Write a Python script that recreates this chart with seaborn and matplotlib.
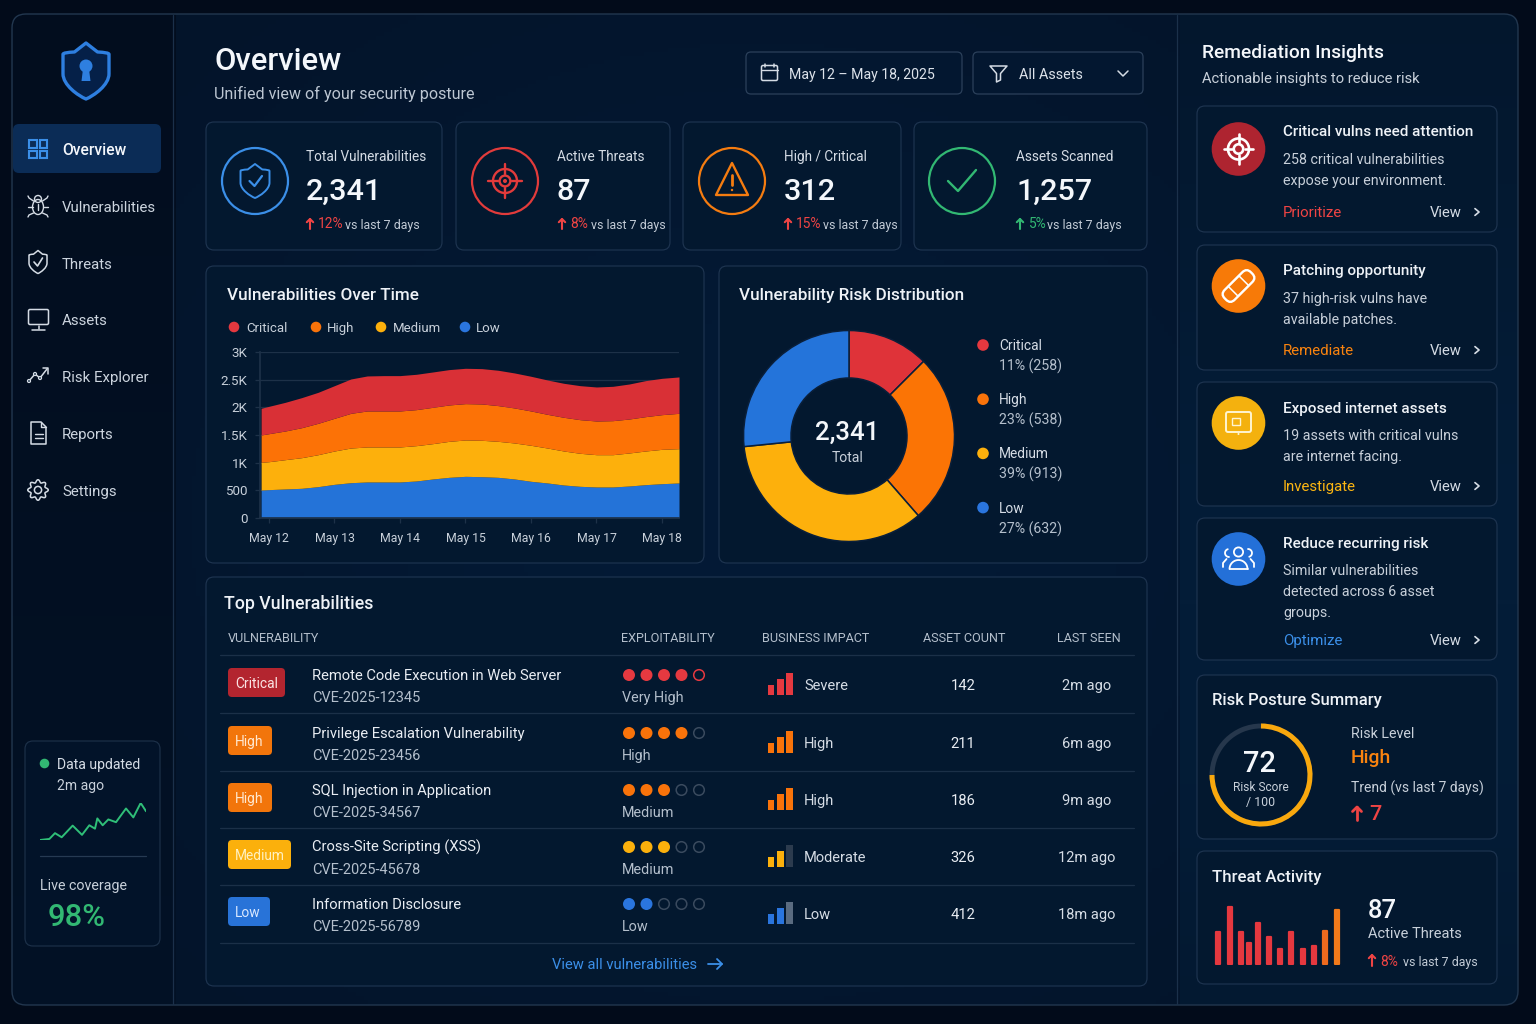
import numpy as np
import matplotlib
matplotlib.use("Agg")
import matplotlib.pyplot as plt
from matplotlib.patches import FancyBboxPatch, Circle, Rectangle, Arc, PathPatch, Ellipse, Polygon
from matplotlib.path import Path
from matplotlib.transforms import Affine2D
import pandas as pd
import seaborn as sns

# ------------------------------------------------------------------ data
nav_items = ["Overview", "Vulnerabilities", "Threats", "Assets", "Risk Explorer", "Reports", "Settings"]
kpi_labels = ["Total Vulnerabilities", "Active Threats", "High / Critical", "Assets Scanned"]
kpi_values = ["2,341", "87", "312", "1,257"]
kpi_deltas = ["12%", "8%", "15%", "5%"]

day_labels = ["May 12", "May 13", "May 14", "May 15", "May 16", "May 17", "May 18"]
area_days = [-0.12, 0, .25, .5, .75, 1, 1.25, 1.5, 1.75, 2, 2.25, 2.5, 2.75, 3,
             3.25, 3.5, 3.75, 4, 4.25, 4.5, 4.75, 5, 5.25, 5.5, 5.75, 6, 6.26]
low_vals = [502, 509, 521, 533, 563, 605, 635, 648, 648, 648, 666, 702, 732, 750,
            744, 732, 702, 660, 630, 593, 569, 557, 557, 575, 599, 617, 630]
medium_vals = [502, 507, 532, 556, 580, 605, 629, 635, 635, 635, 641, 641, 653, 660,
               660, 653, 653, 653, 634, 617, 599, 586, 586, 599, 611, 623, 622]
high_vals = [496, 508, 520, 544, 569, 593, 629, 653, 653, 653, 653, 659, 660, 659,
             659, 648, 635, 623, 611, 611, 610, 611, 617, 616, 623, 629, 641]
critical_vals = [484, 496, 520, 545, 562, 592, 623, 635, 641, 641, 641, 641, 641, 641,
                 641, 641, 635, 629, 623, 617, 617, 617, 623, 635, 653, 659, 660]

risk_names = ["Critical", "High", "Medium", "Low"]
risk_text = ["11% (258)", "23% (538)", "39% (913)", "27% (632)"]
risk_drawn_share = [12.5, 26.1, 34.8, 26.6]

vuln_names = ["Remote Code Execution in Web Server", "Privilege Escalation Vulnerability",
              "SQL Injection in Application", "Cross-Site Scripting (XSS)", "Information Disclosure"]
vuln_cves = ["CVE-2025-12345", "CVE-2025-23456", "CVE-2025-34567", "CVE-2025-45678", "CVE-2025-56789"]
vuln_sev = ["Critical", "High", "High", "Medium", "Low"]
vuln_exploit = [4, 4, 3, 3, 2]
vuln_exploit_txt = ["Very High", "High", "Medium", "Medium", "Low"]
vuln_impact = ["Severe", "High", "High", "Moderate", "Low"]
vuln_impact_bars = [3, 3, 3, 2, 2]
vuln_assets = [142, 211, 186, 326, 412]
vuln_seen = ["2m ago", "6m ago", "9m ago", "12m ago", "18m ago"]

spark_x = [0, 28, 45, 65, 98, 126, 148, 165, 172, 188, 205, 228, 258, 280, 302, 318]
spark_y = [0, 3, 20, 8, 42, 15, 43, 33, 63, 43, 60, 52, 92, 66, 108, 84]

threat_pos = [1218.3, 1229.7, 1240.7, 1249.3, 1258, 1268.7, 1280, 1291.3, 1302.7, 1314, 1325.3, 1337.3]
threat_vals = [32, 57, 32, 21, 41, 27, 15, 32, 15, 18, 33, 54]
risk_score_arc = 75

insight_titles = ["Critical vulns need attention", "Patching opportunity", "Exposed internet assets", "Reduce recurring risk"]
insight_desc = [["258 critical vulnerabilities", "expose your environment."],
                ["37 high-risk vulns have", "available patches."],
                ["19 assets with critical vulns", "are internet facing."],
                ["Similar vulnerabilities", "detected across 6 asset", "groups."]]
insight_action = ["Prioritize", "Remediate", "Investigate", "Optimize"]

# ------------------------------------------------------------------ style
W, H = 1536, 1024
RED, ORANGE, YELLOW, BLUE = "#e5383f", "#f9730a", "#fdb00c", "#2a75de"
sev_col = dict(zip(risk_names, [RED, ORANGE, YELLOW, BLUE]))
WHITE, TXT, MUTED = "#f4f7fb", "#d5dce5", "#b4bfcc"
EDGE = "#1e3450"
CARD = "#03182f"
LBLUE = "#3b8fe8"
GREEN = "#32b873"

sns.set_theme(style="dark", rc={"axes.facecolor": "none", "figure.facecolor": "#020b1a"})
plt.rcParams["font.family"] = ["Roboto", "DejaVu Sans"]
fig = plt.figure(figsize=(W / 100, H / 100), dpi=100)


def add_ax(x0, y0, x1, y1, z=1):
    a = fig.add_axes([x0 / W, 1 - y1 / H, (x1 - x0) / W, (y1 - y0) / H], zorder=z)
    a.patch.set_alpha(0)
    return a


def pixel_ax(z):
    a = add_ax(0, 0, W, H, z)
    a.set_xlim(0, W)
    a.set_ylim(H, 0)
    a.axis("off")
    return a


bg = pixel_ax(0)
ov = pixel_ax(3)


def T(x, y, s, px=14, c=TXT, w="normal", ha="left", va="baseline", ax=None):
    return (ax or ov).text(x, y, s, fontsize=px * .72, color=c, fontweight=w, ha=ha, va=va, zorder=8)


def box(x0, y0, x1, y1, r=8, fc=CARD, ec=EDGE, lw=0.85, ax=None, z=2):
    p = FancyBboxPatch((x0 + r, y0 + r), x1 - x0 - 2 * r, y1 - y0 - 2 * r,
                       boxstyle=f"round,pad={r},rounding_size={r}", fc=fc, ec=ec, lw=lw, zorder=z)
    (ax or bg).add_patch(p)
    return p


def L(xs, ys, c, lw=1.5, z=5, cap="round"):
    ov.plot(xs, ys, color=c, lw=lw, solid_capstyle=cap, solid_joinstyle="round", zorder=z)


def C(x, y, r, fc="none", ec="none", lw=1.5, z=5, ax=None):
    (ax or ov).add_patch(Circle((x, y), r, fc=fc, ec=ec, lw=lw, zorder=z))


def shield(cx, cy, w, h, c, lw=1.5, fc="none"):
    hw, t, b = w / 2, cy - h / 2, cy + h / 2
    verts = [(cx, t), (cx + hw * .5, t + h * .16), (cx + hw, t + h * .17), (cx + hw, t + h * .2),
             (cx + hw, cy + h * .05), (cx + hw, cy + h * .25), (cx + hw * .35, b - h * .06), (cx, b),
             (cx - hw * .35, b - h * .06), (cx - hw, cy + h * .25), (cx - hw, cy + h * .05),
             (cx - hw, t + h * .2), (cx - hw, t + h * .17), (cx - hw * .5, t + h * .16), (cx, t), (cx, t)]
    codes = [Path.MOVETO, Path.LINETO, Path.CURVE3, Path.CURVE3, Path.LINETO, Path.CURVE4, Path.CURVE4, Path.CURVE4,
             Path.CURVE4, Path.CURVE4, Path.CURVE4, Path.LINETO, Path.CURVE3, Path.CURVE3, Path.LINETO, Path.CLOSEPOLY]
    ov.add_patch(PathPatch(Path(verts, codes), fc=fc, ec=c, lw=lw, zorder=5, joinstyle="round"))


def up_arrow(x, y0, y1, c, lw=1.5, hw=3.2):
    L([x, x], [y0, y1], c, lw)
    L([x - hw, x, x + hw], [y0 + hw, y0, y0 + hw], c, lw)


def chevron(x, y, c=TXT, s=3.4, lw=1.2):
    L([x - s * .6, x + s * .6, x - s * .6], [y - s, y, y + s], c, lw)


def target(cx, cy, r, c, lw=1.8):
    C(cx, cy, r, ec=c, lw=lw)
    C(cx, cy, r * .45, ec=c, lw=lw)
    for dx, dy in [(1, 0), (-1, 0), (0, 1), (0, -1)]:
        L([cx + dx * r * .6, cx + dx * r * 1.4], [cy + dy * r * .6, cy + dy * r * 1.4], c, lw)


# ------------------------------------------------------------------ background
gy, gx = np.mgrid[0:H:4, 0:W:4]
glow = np.exp(-(((gx - 760) / 620) ** 2 + ((gy - 520) / 520) ** 2))
base = np.array([3, 19, 40])[None, None, :] + glow[..., None] * np.array([1, 7, 14])[None, None, :]
side = gx < 173
base[side] = (np.array([2, 13, 30])[None, :] + (gy[side] / H)[:, None] * np.array([1, 5, 8])[None, :])
right = gx > 1177
base[right] = (np.array([3, 21, 42])[None, :] + np.exp(-((gy[right] - 600) / 500) ** 2)[:, None] * np.array([1, 8, 14])[None, :])
im = bg.imshow(base.astype(np.uint8), extent=[0, W, H, 0], zorder=1, aspect="auto")
bg.set_xlim(0, W)
bg.set_ylim(H, 0)
panel = box(12, 14, 1518, 1005, r=14, fc="none", ec="#22374f", lw=1.0, z=3)
im.set_clip_path(panel)
bg.plot([172.8, 172.8], [15, 1004], color="#1b304a", lw=0.9, zorder=3)
bg.plot([1176.8, 1176.8], [15, 1004], color="#1b304a", lw=0.9, zorder=3)

# ------------------------------------------------------------------ sidebar
shield(86, 71, 46, 56, "#2e7fe0", lw=2.4, fc="#052048")
C(86, 66, 6.5, fc="#2e7fe0")
ov.add_patch(Polygon([(83, 69), (89, 69), (90.5, 81), (81.5, 81)], fc="#2e7fe0", ec="none", zorder=5))

box(13, 124, 161, 173, r=6, fc="#0b2c56", ec="none", ax=bg, z=3)
nav_y = [149, 206, 263, 319, 376, 433, 490]
for i, (n, y) in enumerate(zip(nav_items, nav_y)):
    T(62, y + 5.8, n, 15.6 if i == 0 else 15, WHITE if i == 0 else "#ccd4de", "medium" if i == 0 else "normal")
for sx in (29, 39.5):
    for sy in (140, 150.5):
        ov.add_patch(Rectangle((sx, sy), 7.8, 7.8, fc="none", ec=LBLUE, lw=1.5, zorder=5))
ic = "#d5dce5"
ov.add_patch(Ellipse((38, 207), 11, 15, fc="none", ec=ic, lw=1.0, zorder=5))
C(38, 199, 3.5, ec=ic, lw=1.0)
L([38, 38], [204, 210], ic, 1.0)
for s in (-1, 1):
    L([38 + s * 5.5, 38 + s * 10], [207, 207], ic, 1.0)
    L([38 + s * 4.5, 38 + s * 9, 38 + s * 10], [201, 198, 196], ic, 1.0)
    L([38 + s * 4.5, 38 + s * 9, 38 + s * 10], [213, 215, 217], ic, 1.0)
shield(38, 262, 18, 23, ic, 1.1)
L([34, 37.5, 42.5], [262, 266, 258], ic, 1.2)
ov.add_patch(FancyBboxPatch((30, 311), 17, 12, boxstyle="round,pad=1.5,rounding_size=1.5", fc="none", ec=ic, lw=1.1, zorder=5))
L([38.5, 38.5], [326, 329], ic, 1.1)
L([32, 45], [329.5, 329.5], ic, 1.1)
L([29, 35, 40, 47], [381, 374, 378, 369], ic, 1.1)
L([42.5, 48, 48], [368, 368, 373.5], ic, 1.1)
for px_, py_ in [(29, 381), (35, 374), (40, 378)]:
    C(px_, py_, 1.5, fc="#021a33", ec=ic, lw=0.9)
ov.add_patch(Polygon([(31, 422), (41, 422), (46, 427), (46, 444), (31, 444)], closed=True, fc="none", ec=ic, lw=1.1, zorder=5, joinstyle="round"))
L([41, 41, 46], [422, 427, 427], ic, 1.0)
for yy in (434, 438):
    L([34.5, 42.5], [yy, yy], ic, 1.0)
ang = np.deg2rad(np.arange(0, 360, 4))
rad = 8.9 + 1.4 * np.cos(8 * ang)
ov.add_patch(Polygon(np.c_[38 + rad * np.cos(ang), 490 + rad * np.sin(ang)], closed=True, fc="none", ec=ic, lw=1.1, zorder=5, joinstyle="round"))
C(38, 490, 3.6, ec=ic, lw=1.1)

box(25, 741, 160, 946, r=8, fc="#021329", ec="#1d3149", ax=bg, z=3)
C(44.5, 763.5, 4.8, fc=GREEN)
T(57, 768.5, "Data updated", 14, "#d5dce5")
T(57, 790, "2m ago", 14, "#c8d0da")
ov.plot([40, 146], [856, 856], color="#263a52", lw=0.9)
T(40, 890, "Live coverage", 14.2, "#c8d0da")
T(48, 926, "98%", 31, GREEN, "medium")

sp = add_ax(40, 803, 146, 840)
sns.lineplot(x=spark_x, y=spark_y, ax=sp, color="#2fbf78", lw=1.4, errorbar=None, estimator=None, sort=False)
sp.set_xlim(0, 318)
sp.set_ylim(0, 108)
sp.axis("off")

# ------------------------------------------------------------------ header
T(214, 70, "Overview", 31, WHITE, "medium")
T(214, 99, "Unified view of your security posture", 16.1, "#bcc6d2")
box(746, 52, 962, 94, r=5, fc="#031730", ec="#2b405a", lw=0.9, ax=bg, z=3)
box(973, 52, 1143, 94, r=5, fc="#031730", ec="#2b405a", lw=0.9, ax=bg, z=3)
ov.add_patch(FancyBboxPatch((763, 67), 13, 12, boxstyle="round,pad=1.5,rounding_size=1.5", fc="none", ec=ic, lw=1.1, zorder=5))
L([761.5, 777.5], [70, 70], ic, 1.0)
L([765, 765], [63.5, 67], ic, 1.1)
L([774, 774], [63.5, 67], ic, 1.1)
T(789, 78.8, "May 12 \u2013 May 18, 2025", 14.1, "#dce2ea")
ov.add_patch(Polygon([(990, 66), (1007, 66), (1000.5, 73.5), (1000.5, 80), (996.5, 82), (996.5, 73.5)], closed=True, fc="none", ec=ic, lw=1.1, zorder=5, joinstyle="round"))
T(1019, 78.8, "All Assets", 14.4, "#dce2ea")
L([1118, 1123, 1128], [71, 76, 71], ic, 1.1)

# ------------------------------------------------------------------ KPI cards
kpi_box = [(206, 442), (456, 670), (683, 901), (914, 1147)]
kpi_cx = [255, 505, 732, 962]
kpi_col = [LBLUE, "#e23b3b", "#f57c10", GREEN]
kpi_tx = [306, 557, 784, 1016]
kpi_dx = [318, 570, 796, 1028]
kpi_vx = [345, 591, 823, 1047]
kpi_ax = [310, 562, 788, 1020]
for i in range(4):
    box(kpi_box[i][0], 122, kpi_box[i][1], 250, r=8, ax=bg, z=3)
    C(kpi_cx[i], 181, 33, ec=kpi_col[i], lw=1.6)
    T(kpi_tx[i], 161, kpi_labels[i], 13.6, "#d5dce5")
    T(kpi_tx[i], 200, kpi_values[i], 30.5, WHITE, "medium")
    dc = GREEN if i == 3 else "#ef4444"
    up_arrow(kpi_ax[i], 219, 229, dc, 1.5)
    T(kpi_dx[i], 228.5, kpi_deltas[i], 13.8, dc)
    T(kpi_vx[i], 228.5, "vs last 7 days", 12.4, "#c2cbd6")
shield(255, 181, 29, 34, LBLUE, 1.4)
L([249.5, 254.5, 262], [181, 186, 176], LBLUE, 1.6)
target(505, 181, 12, "#e23b3b", 1.7)
C(505, 181, 2, fc="#e23b3b")
ov.add_patch(Polygon([(732, 163), (748, 195), (716, 195)], closed=True, fc="none", ec="#f57c10", lw=1.7, zorder=5, joinstyle="round"))
L([732, 732], [175, 185], "#f57c10", 2)
C(732, 190, 1.2, fc="#f57c10")
L([948, 958, 976], [181, 191, 170], GREEN, 1.7)

# ------------------------------------------------------------------ area chart
box(206, 266, 704, 563, r=8, ax=bg, z=3)
T(227, 300, "Vulnerabilities Over Time", 17.1, "#eef2f7", "medium")
for xd, xt, n in zip([234, 316, 381, 465], [246, 327, 393, 476], risk_names):
    C(xd, 327, 5.3, fc=sev_col[n])
    T(xt, 332, n, 13.2, "#c8d0da")
ar = add_ax(260, 352.3, 679, 517.7)
ar.stackplot(area_days, low_vals, medium_vals, high_vals, critical_vals,
             colors=["#2473d8", "#fdb00c", "#fc7206", "#d93036"], lw=0, zorder=2)
ar.set_xlim(-0.137, 6.26)
ar.set_ylim(0, 3000)
ar.set_xticks(range(7))
ar.set_xticklabels(day_labels)
ar.set_yticks([0, 500, 1000, 1500, 2000, 2500, 3000])
ar.set_yticklabels(["0", "500", "1K", "1.5K", "2K", "2.5K", "3K"])
ar.grid(axis="y", color="#1d3148", lw=0.9)
ar.grid(axis="x", visible=False)
ar.set_axisbelow(True)
ar.tick_params(axis="y", colors="#1d3148", labelcolor="#c8d0da", labelsize=13.4 * .72, length=3.6, width=.9, pad=5.5, left=True)
ar.tick_params(axis="x", colors="#1d3148", labelcolor="#c8d0da", labelsize=12.2 * .72, length=3.6, width=.9, pad=7, bottom=True)
for s_ in ar.spines.values():
    s_.set_visible(False)
ar.spines["left"].set_visible(True)
ar.spines["bottom"].set_visible(True)
ar.spines["left"].set_color("#1d3148")
ar.spines["bottom"].set_color("#1d3148")

# ------------------------------------------------------------------ donut
box(719, 266, 1147, 563, r=8, ax=bg, z=3)
T(739, 300, "Vulnerability Risk Distribution", 17.1, "#eef2f7", "medium")
do = add_ax(849 - 110, 436 - 110, 849 + 110, 436 + 110)
do.pie(risk_drawn_share, colors=["#df3339", "#fb7405", YELLOW, "#2474da"], startangle=90, counterclock=False, radius=105.5,
       wedgeprops=dict(width=47.5, edgecolor="#0a1f3a", linewidth=1.1))
do.set_xlim(-110, 110)
do.set_ylim(-110, 110)
T(847, 439.5, "2,341", 25.8, WHITE, "medium", "center")
T(848, 461.5, "Total", 14, "#c8d0da", ha="center")
for i, n in enumerate(risk_names):
    yy = 345 + i * 54.2
    C(983, yy, 5.8, fc=sev_col[n])
    T(999, yy + 5, n, 13.8, "#d5dce5")
    T(999, yy + 25.5, risk_text[i], 14.1, "#b4bfcc")

# ------------------------------------------------------------------ table
box(206, 577, 1147, 986, r=8, ax=bg, z=3)
T(224, 609, "Top Vulnerabilities", 17.7, "#eef2f7", "medium")
for x_, s_ in zip([228, 621, 762, 923, 1057], ["VULNERABILITY", "EXPLOITABILITY", "BUSINESS IMPACT", "ASSET COUNT", "LAST SEEN"]):
    T(x_, 642, s_, 12.6, "#b4bfcc")
for y_ in [655, 713, 771, 828, 885, 943]:
    ov.plot([220, 1134], [y_, y_], color="#1b3048", lw=0.9, zorder=2)
row_y = [675, 733, 790, 847, 904]
badge_w = {"Critical": 57, "High": 44, "Medium": 63, "Low": 42}
badge_fc = {"Critical": "#b3252f", "High": "#f2750b", "Medium": "#fbb00c", "Low": "#2873d8"}
badge_tc = {"Critical": "#fbe3e3", "High": "#ffe8d0", "Medium": "#fff0c0", "Low": "#d9e8ff"}
dot_col = {"Critical": "#e53940", "High": "#f9730a", "Medium": "#fbb00c", "Low": "#2a75de"}
bar_h = [10, 16, 22]
for i, y in enumerate(row_y):
    sev = vuln_sev[i]
    box(228, y - 7, 228 + badge_w[sev], y + 22, r=4, fc=badge_fc[sev], ec="none", ax=ov, z=4)
    T(235, y + 13, sev, 13.8, badge_tc[sev])
    T(312, y + 5, vuln_names[i], 14.7, "#e9edf3")
    T(312, y + 27, vuln_cves[i], 14.5, "#b4bfcc")
    for k in range(5):
        cx = 629 + k * 17.5
        if k < vuln_exploit[i]:
            C(cx, y, 6, fc=dot_col[sev])
        else:
            C(cx, y, 5.3, ec=dot_col[sev] if i == 0 else "#3a4a5e", lw=1.1)
    T(622, y + 27, vuln_exploit_txt[i], 14.4, "#b4bfcc")
    by = y + 19.5
    for k, h_ in enumerate(bar_h):
        on = k < vuln_impact_bars[i]
        fc = dot_col[sev] if on else ("#5a6b80" if sev == "Low" else "#2c3b4e")
        ov.add_patch(Rectangle((768 + k * 9.2, by - h_), 6.4, h_, fc=fc, ec="none", zorder=5))
    T(804, y + 15, vuln_impact[i], 14.6, "#d5dce5")
    T(963, y + 15, str(vuln_assets[i]), 14.8, "#e9edf3", ha="center")
    T(1087, y + 15, vuln_seen[i], 14.6, "#d5dce5", ha="center")
T(552, 969, "View all vulnerabilities", 14.8, LBLUE)
L([708, 722], [964, 964], LBLUE, 1.3)
L([717, 722, 717], [959, 964, 969], LBLUE, 1.3)

# ------------------------------------------------------------------ right panel
T(1202, 58, "Remediation Insights", 19.3, WHITE, "medium")
T(1202, 83, "Actionable insights to reduce risk", 14.7, "#c8d0da")
ins_box = [(106, 232), (245, 370), (382, 506), (518, 660)]
ins_cy = [149, 286, 423, 559]
ins_col = ["#ae2430", "#f77a08", "#f4b10e", "#2470d8"]
ins_act = ["#ef4444", "#f9830f", "#fbb512", "#3b8fe8"]
ins_ty = [136, 275, 413, 548]
ins_dy = [[164, 185], [303, 324], [440, 461], [575, 596, 617]]
ins_ay = [217, 355, 491, 645]
for i in range(4):
    box(1197, ins_box[i][0], 1497, ins_box[i][1], r=8, ax=bg, z=3)
    C(1238.5, ins_cy[i], 26.8, fc=ins_col[i], z=4)
    T(1283, ins_ty[i], insight_titles[i], 15.2, "#eef2f7", "medium")
    for s_, y_ in zip(insight_desc[i], ins_dy[i]):
        T(1283, y_, s_, 14.2, "#c8d0da")
    T(1283, ins_ay[i], insight_action[i], 15, ins_act[i])
    T(1430, ins_ay[i], "View", 14.7, "#d5dce5")
    chevron(1477, ins_ay[i] - 5, "#d5dce5")
target(1238.5, 149, 10.5, "white", 1.9)
rot = Affine2D().rotate_deg_around(1238.5, 286, -45) + ov.transData
ov.add_patch(FancyBboxPatch((1220, 279), 37, 14, boxstyle="round,pad=0,rounding_size=6", fc="none", ec="white", lw=1.7, zorder=6, transform=rot))
ov.add_patch(Rectangle((1231, 279), 15, 14, fc="none", ec="white", lw=1.1, zorder=6, transform=rot))
ov.add_patch(FancyBboxPatch((1226, 412), 25, 20, boxstyle="round,pad=0,rounding_size=2", fc="none", ec="#fff4d0", lw=1.4, zorder=6))
ov.add_patch(Rectangle((1232, 418), 8, 7, fc="none", ec="#fff4d0", lw=1.0, zorder=6))
C(1238.5, 434, 1, fc="#fff4d0", z=6)
for cx_, cy_, rr in [(1238.5, 552, 4.6)]:
    C(cx_, cy_, rr, ec="white", lw=1.3, z=6)
t_ = np.linspace(-np.pi * .5, np.pi * .4, 12)
L(1229 + 4 * np.cos(t_ + np.pi), 553 + 4 * np.sin(t_ + np.pi), "white", 1.3, 6)
L(1248 + 4 * np.cos(t_), 553 + 4 * np.sin(t_), "white", 1.3, 6)
t_ = np.linspace(np.pi, 0, 20)
L(1238.5 + 9 * np.cos(t_), 569 - 9 * np.sin(t_), "white", 1.3, 6)
L([1229.5, 1247.5], [569, 569], "white", 1.3, 6)
L([1223, 1223, 1226.5], [567, 563, 559], "white", 1.3, 6)
L([1254, 1254, 1250.5], [567, 563, 559], "white", 1.3, 6)

# Risk posture
box(1197, 675, 1497, 839, r=8, ax=bg, z=3)
T(1212, 705, "Risk Posture Summary", 16.6, "#eef2f7", "medium")
ov.add_patch(Arc((1261, 775), 98, 98, theta1=0, theta2=360, ec="#26374c", lw=3.5, zorder=5))
ov.add_patch(Arc((1261, 775), 98, 98, theta1=-90, theta2=-90 + 360 * risk_score_arc / 100, ec="#f9a80d", lw=3.6, zorder=6))
T(1259, 772, "72", 29, WHITE, "medium", "center")
T(1261, 791, "Risk Score", 11.9, "#c8d0da", ha="center")
T(1261, 806, "/ 100", 12.4, "#c8d0da", ha="center")
T(1351, 738, "Risk Level", 14.2, "#c8d0da")
T(1351, 763, "High", 19.4, "#f9830f", "medium")
T(1351, 793, "Trend (vs last 7 days)", 13.9, "#c8d0da")
up_arrow(1357, 807, 820, "#ef4444", 2, 4.5)
T(1369, 820, "7", 21.5, "#ef4444", "medium")

# Threat activity
box(1197, 851, 1497, 984, r=8, ax=bg, z=3)
T(1212, 882, "Threat Activity", 16.7, "#eef2f7", "medium")
ta = add_ax(1210, 900, 1345, 965)
threat_df = pd.DataFrame({"pos": threat_pos, "val": threat_vals})
sns.barplot(data=threat_df, x="pos", y="val", native_scale=True, width=0.8, color=RED, ax=ta, errorbar=None)
bar_cols = ["#e5383f"] * 10 + ["#ee6a1e", "#f27a1a"]
for b_, c_ in zip(ta.patches, bar_cols):
    bw = b_.get_width()
    b_.set_width(4.2)
    b_.set_x(b_.get_x() + (bw - 4.2) / 2)
    b_.set_facecolor(c_)
    b_.set_edgecolor(c_)
    b_.set_linewidth(1.6)
    b_.set_joinstyle("round")
ta.set_xlim(1210, 1345)
ta.set_ylim(-1, 64)
ta.axis("off")
T(1368, 918, "87", 25.5, WHITE, "medium")
T(1368, 938, "Active Threats", 14.6, "#c8d0da")
up_arrow(1372, 955, 966, "#ef4444", 1.5)
T(1380, 966, "8%", 13.8, "#ef4444")
T(1403, 966, "vs last 7 days", 12.4, "#c2cbd6")

fig.savefig("out.png", dpi=100, facecolor="#020b1a")
